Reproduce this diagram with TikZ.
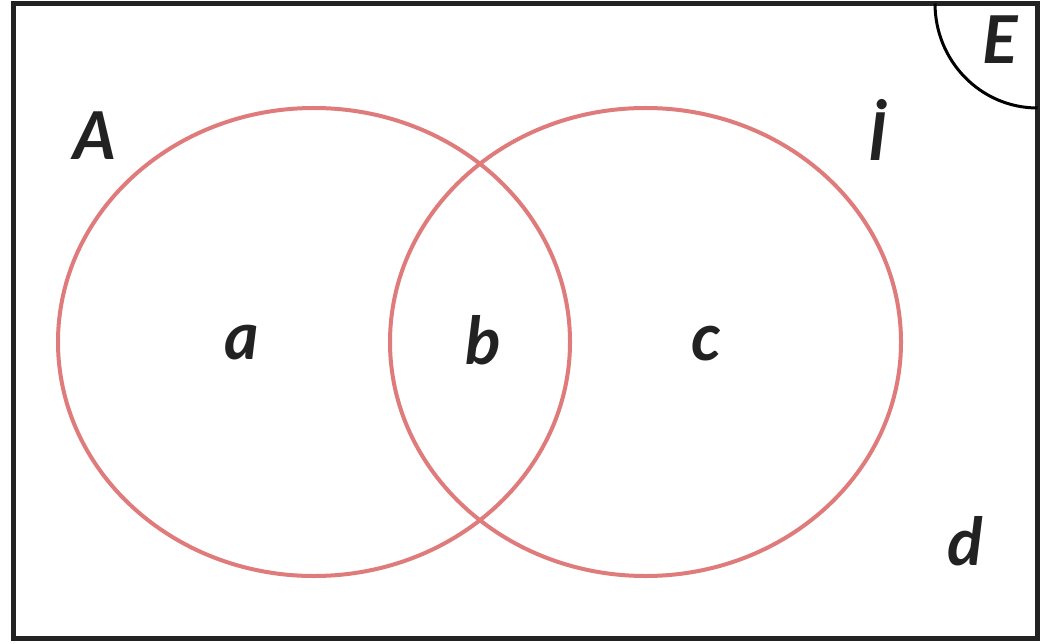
\documentclass[tikz,border=0pt]{standalone}
\usepackage{fontspec}
\setmainfont{Lato}
\begin{document}
\begin{tikzpicture}[x=1pt,y=-1pt,
  setline/.style={draw=venn,line width=4pt},
  lbl/.style={font=\fontsize{66}{66}\selectfont\bfseries\itshape,text=ink,inner sep=0pt}]
\definecolor{venn}{HTML}{E07B7C}
\definecolor{ink}{HTML}{222222}
\useasboundingbox (0,0) rectangle (1040,644);
\fill[white] (0,0) rectangle (1040,644);
\draw[ink,line width=5pt] (13.5,3.5) rectangle (1037.5,638.5);
\draw[black,line width=3pt] (935,3.5) arc[start angle=180,end angle=270,x radius=102.5,y radius=-104.5];
\draw[setline] (314,342) ellipse[x radius=256,y radius=234];
\draw[setline] (645.5,342) ellipse[x radius=255.5,y radius=234];
\node[lbl] (A) at (95,136) {A};
\node[lbl] (I) at (878,130) {İ};
\node[lbl] (a) at (242,343) {a};
\node[lbl] (b) at (483,340) {b};
\node[lbl] (c) at (706,344) {c};
\node[lbl] (d) at (965,541) {d};
\node[lbl] (E) at (1000,40) {E};
\end{tikzpicture}
\end{document}
